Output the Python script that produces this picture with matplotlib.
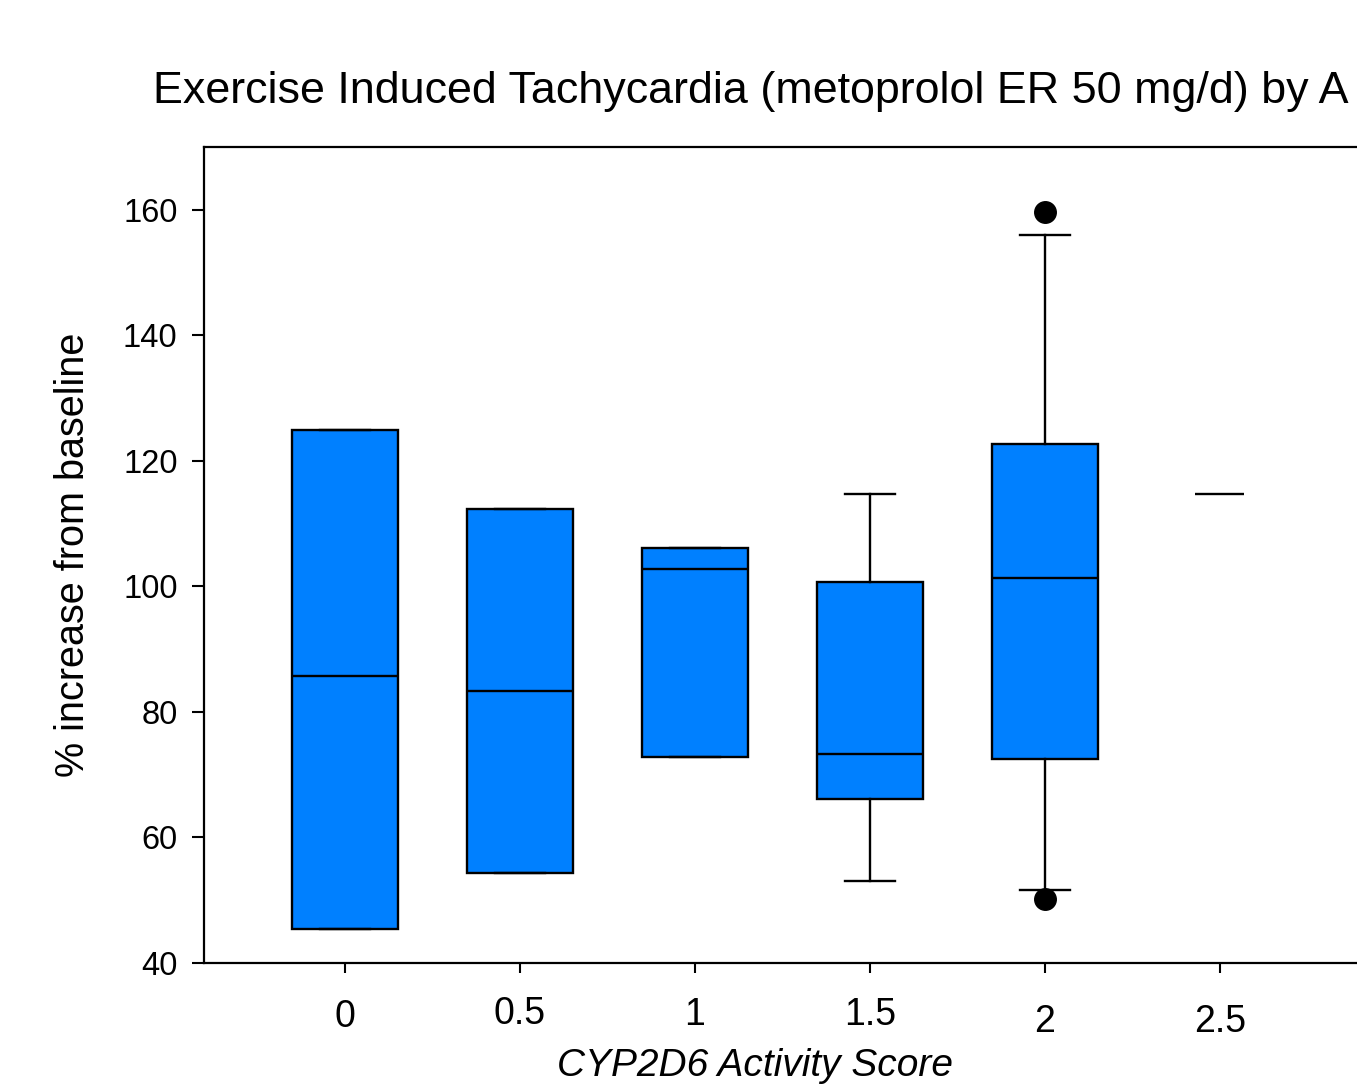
import matplotlib
matplotlib.use("Agg")
import matplotlib.pyplot as plt

# values
scores = [0, 0.5, 1, 1.5, 2]
q1 = [45.4, 54.3, 72.8, 66.1, 72.5]
med = [85.7, 83.3, 102.8, 73.3, 101.4]
q3 = [124.9, 112.3, 106.1, 100.7, 122.7]
whislo = [45.4, 54.3, 72.8, 53.1, 51.6]
whishi = [124.9, 112.3, 106.1, 114.7, 156.0]
fliers = [[], [], [], [], [159.7, 50.2]]
single_score = 2.5
single_value = 114.7
tick_vals = [0, 0.5, 1, 1.5, 2, 2.5]
tick_labels = ["0", "0.5", "1", "1.5", "2", "2.5"]
tick_label_y = [1017, 1014, 1015, 1015, 1022, 1022]  # label centres in the original (px)

plt.rcParams["font.family"] = ["Liberation Sans", "DejaVu Sans"]

fig = plt.figure(figsize=(13.57, 10.87), dpi=100)
ax = fig.add_axes([0.1503, 0.1141, 0.8777, 0.7507])

stats = []
for i in range(len(scores)):
    stats.append(dict(med=med[i], q1=q1[i], q3=q3[i],
                      whislo=whislo[i], whishi=whishi[i], fliers=fliers[i]))

ax.bxp(stats, positions=scores, widths=0.303, patch_artist=True,
       showfliers=True, manage_ticks=False,
       boxprops=dict(facecolor="#0080FF", edgecolor="black", linewidth=1.7),
       medianprops=dict(color="black", linewidth=1.7),
       whiskerprops=dict(color="black", linewidth=1.7),
       capprops=dict(color="black", linewidth=1.7),
       capwidths=0.143,
       flierprops=dict(marker="o", markerfacecolor="black", markeredgecolor="black",
                       markersize=15.5))

# group with a single observation: only a line
ax.hlines(single_value, single_score - 0.07, single_score + 0.07, color="black", linewidth=1.7)

ax.set_xlim(-0.403, 3.0)
ax.set_ylim(40, 170)
ax.set_yticks([40, 60, 80, 100, 120, 140, 160])
ax.set_xticks(tick_vals)
ax.set_xticklabels([])

# x tick labels sit at slightly different heights in the original
axes_h = 0.7507 * 1087
for val, lab, ypx in zip(tick_vals, tick_labels, tick_label_y):
    ax.text(val, -(ypx - 963) / axes_h, lab, transform=ax.get_xaxis_transform(),
            ha="center", va="center", fontsize=27, clip_on=False)

ax.tick_params(axis="y", direction="out", length=8.5, width=1.5, labelsize=23.5, pad=10.5)
ax.tick_params(axis="x", direction="out", length=7, width=1.5)
for s in ["left", "top", "bottom"]:
    ax.spines[s].set_linewidth(1.6)
ax.spines["right"].set_visible(False)

ax.set_ylabel("% increase from baseline", fontsize=28.5, labelpad=22)

fig.text(153 / 1357, 1 - 91 / 1087,
         "Exercise Induced Tachycardia (metoprolol ER 50 mg/d) by A",
         ha="left", va="center", fontsize=32.3)
fig.text(755 / 1357, 1 - 1066 / 1087, "CYP2D6 Activity Score",
         ha="center", va="center", fontsize=28, style="italic")

fig.savefig("out.png", dpi=100)
